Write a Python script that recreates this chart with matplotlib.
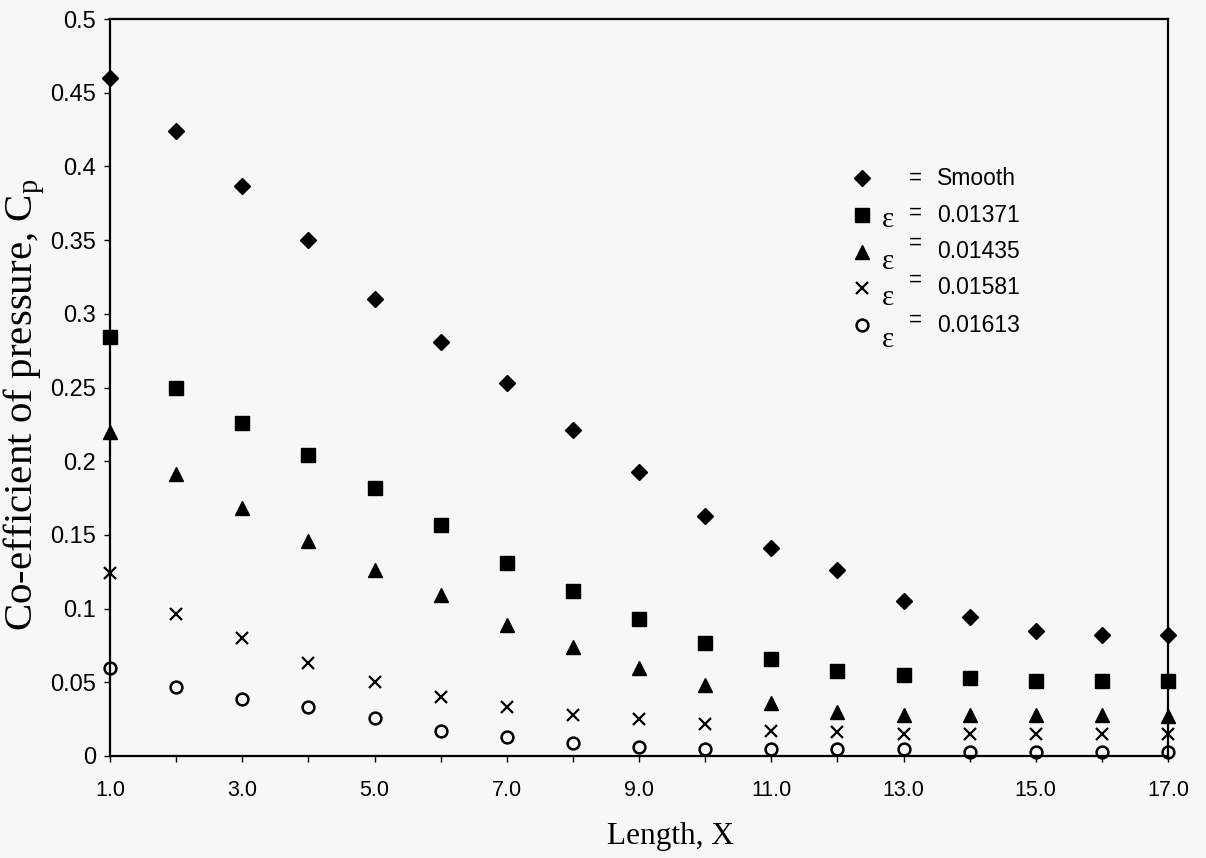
import matplotlib
matplotlib.use("Agg")
import matplotlib.pyplot as plt

plt.rcParams['font.family'] = ['Liberation Sans', 'DejaVu Sans']
plt.rcParams['mathtext.fontset'] = 'custom'
plt.rcParams['mathtext.rm'] = 'Liberation Serif'

# data
length_x = list(range(1, 18))
cp_smooth = [0.460, 0.424, 0.387, 0.350, 0.310, 0.281, 0.253, 0.221, 0.193,
             0.163, 0.141, 0.126, 0.105, 0.094, 0.085, 0.082, 0.082]
cp_01371 = [0.284, 0.250, 0.226, 0.204, 0.182, 0.157, 0.131, 0.112, 0.093,
            0.077, 0.066, 0.058, 0.055, 0.053, 0.051, 0.051, 0.051]
cp_01435 = [0.220, 0.191, 0.168, 0.146, 0.126, 0.109, 0.089, 0.074, 0.060,
            0.048, 0.036, 0.030, 0.028, 0.028, 0.028, 0.028, 0.027]
cp_01581 = [0.124, 0.096, 0.080, 0.063, 0.050, 0.040, 0.033, 0.028, 0.025,
            0.022, 0.017, 0.016, 0.015, 0.015, 0.015, 0.015, 0.015]
cp_01613 = [0.060, 0.047, 0.039, 0.033, 0.026, 0.017, 0.013, 0.009, 0.006,
            0.005, 0.005, 0.005, 0.005, 0.003, 0.003, 0.003, 0.003]

legend_labels = ['Smooth', '0.01371', '0.01435', '0.01581', '0.01613']
x_ticks = list(range(1, 18))
x_ticklabels = ['%.1f' % v if v % 2 == 1 else '' for v in x_ticks]
y_ticks = [0, 0.05, 0.1, 0.15, 0.2, 0.25, 0.3, 0.35, 0.4, 0.45, 0.5]
y_ticklabels = ['0', '0.05', '0.1', '0.15', '0.2', '0.25', '0.3', '0.35', '0.4', '0.45', '0.5']

bg = '#f7f7f7'
fig = plt.figure(figsize=(12.06, 8.58), dpi=100, facecolor=bg)
ax = fig.add_axes([110 / 1206, 102 / 858, 1058 / 1206, 737 / 858], facecolor=bg)

styles = [
    dict(marker='D', ms=8, mfc='black', mec='black'),
    dict(marker='s', ms=10, mfc='black', mec='black'),
    dict(marker='^', ms=10, mfc='black', mec='black'),
    dict(marker='x', ms=9, mec='black', mew=1.6),
    dict(marker='o', ms=8.5, mfc='none', mec='black', mew=1.8),
]
series = [cp_smooth, cp_01371, cp_01435, cp_01581, cp_01613]
for vals, st in zip(series, styles):
    ax.plot(length_x, vals, linestyle='none', clip_on=False, zorder=3, **st)

ax.set_xlim(1, 17)
ax.set_ylim(0, 0.5)
ax.set_xticks(x_ticks)
ax.set_xticklabels(x_ticklabels)
ax.set_yticks(y_ticks)
ax.set_yticklabels(y_ticklabels)
ax.tick_params(axis='x', direction='out', length=4, width=1, pad=13, labelsize=15.5)
ax.tick_params(axis='y', direction='out', length=4, width=1, pad=6, labelsize=17)
for sp in ax.spines.values():
    sp.set_linewidth(1.6)
    sp.set_color('black')

ax.set_xlabel('Length, X', fontfamily='Liberation Serif', fontsize=22.5)
ax.xaxis.set_label_coords(0.530, -0.089)
ax.set_ylabel('Co-efficient of pressure, C$_\\mathregular{p}$',
              fontfamily='Liberation Serif', fontsize=29.5)
ax.yaxis.set_label_coords(-0.060, 0.477)

# hand-made legend block
def fx(px):
    return (px - 110) / 1058

def fy(py):
    return (756 - py) / 737

row_y = [178, 215, 252, 288, 325]
eps_dy = [None, 5, 10, 10, 15]
eq_dy = [0, -2, -9, -8, -5]
for i, (st, lab) in enumerate(zip(styles, legend_labels)):
    ax.plot([fx(862)], [fy(row_y[i])], transform=ax.transAxes, linestyle='none',
            clip_on=False, **st)
    ax.text(fx(915), fy(row_y[i] + eq_dy[i]), '=', transform=ax.transAxes,
            ha='center', va='center', fontsize=16)
    ax.text(fx(937), fy(row_y[i]), lab, transform=ax.transAxes,
            ha='left', va='center', fontsize=16.5)
    if eps_dy[i] is not None:
        ax.text(fx(888), fy(row_y[i] + eps_dy[i]), 'ε', transform=ax.transAxes,
                ha='center', va='center', fontsize=21, fontfamily='Liberation Serif')

fig.savefig('out.png', dpi=100, facecolor=bg)
